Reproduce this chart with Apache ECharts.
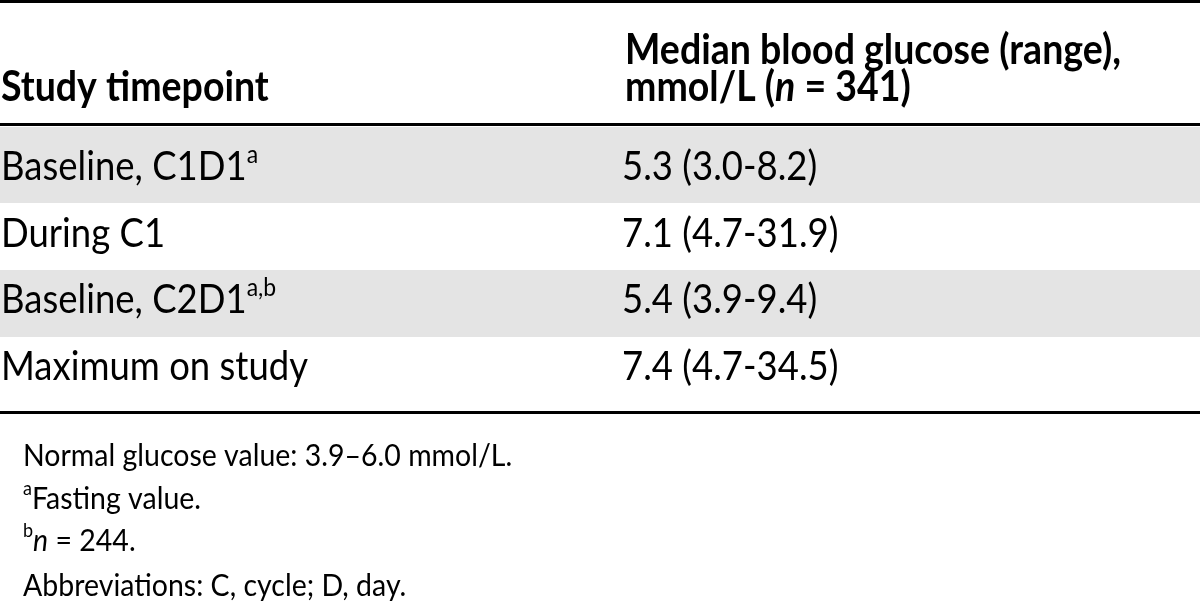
<!DOCTYPE html>
<html><head><meta charset="utf-8">
<script src="https://cdn.jsdelivr.net/npm/echarts@6/dist/echarts.min.js"></script>
<style>html,body{margin:0;padding:0;background:#fff}#c{width:1200px;height:603px}</style>
</head><body><div id="c"></div>
<script>
// ---- data ----
const headerCol1 = 'Study timepoint';
const headerCol2Line1 = 'Median blood glucose (range),';
const headerCol2N = '341';
const timepoints = ['Baseline, C1D1', 'During C1', 'Baseline, C2D1', 'Maximum on study'];
const timepointNotes = ['a', '', 'a,b', ''];
const medians = ['5.3', '7.1', '5.4', '7.4'];
const ranges = ['3.0-8.2', '4.7-31.9', '3.9-9.4', '4.7-34.5'];
const footnoteNormal = 'Normal glucose value: 3.9\u20136.0 mmol/L.';
const footnoteA = 'Fasting value.';
const footnoteBN = '244';
const footnoteAbbr = 'Abbreviations: C, cycle; D, day.';

// ---- layout ----
const FONT = 'Lato';
const HEAD = 37.5, BODY = 36.5, FOOT = 28.5;
const SY = 1.1;
const rowTop = [127, 203, 270, 337];
const rowBottom = [203, 270, 337, 411];
const rowCenter = [167, 234, 300, 367];
const col2x = 622;

const g = [];
rowTop.forEach((t, i) => {
  if (i % 2 === 0) g.push({type: 'rect', shape: {x: 0, y: t, width: 1200, height: rowBottom[i] - t}, style: {fill: '#e4e4e4'}, silent: true});
});
[1.5, 124.5, 412.5].forEach((y) => {
  g.push({type: 'line', shape: {x1: 0, y1: y, x2: 1200, y2: y}, style: {stroke: '#000', lineWidth: 3}, silent: true});
});
const rich = (size, bold) => ({
  t: {fontFamily: FONT, fontSize: size, fontWeight: bold ? 'bold' : 'normal', fill: '#000'},
  i: {fontFamily: FONT, fontSize: size, fontWeight: bold ? 'bold' : 'normal', fontStyle: 'italic', fill: '#000'},
  s: {fontFamily: FONT, fontSize: Math.round(size * 0.62), fill: '#000', verticalAlign: 'top', padding: [0, 0, Math.round(size * 0.62), 0]}
});
function txt(x, y, text, size, bold) {
  g.push({type: 'text', x: x, y: y, scaleY: SY, silent: true,
    style: {text: text, rich: rich(size, bold), verticalAlign: 'middle', textVerticalAlign: 'middle', align: 'left', fill: '#000'}});
}
// header
txt(1, 88, '{t|' + headerCol1 + '}', HEAD, true);
txt(625, 51, '{t|' + headerCol2Line1 + '}', HEAD, true);
txt(625, 88, '{t|mmol/L (}{i|n}{t| = ' + headerCol2N + ')}', HEAD, true);
// rows
timepoints.forEach((tp, i) => {
  txt(1, rowCenter[i], '{t|' + tp + '}' + (timepointNotes[i] ? '{s|' + timepointNotes[i] + '}' : ''), BODY, false);
  txt(col2x, rowCenter[i], '{t|' + medians[i] + ' (' + ranges[i] + ')}', BODY, false);
});
// footnotes
txt(23, 456, '{t|' + footnoteNormal + '}', FOOT, false);
txt(23, 499, '{s|a}{t|' + footnoteA + '}', FOOT, false);
txt(23, 541, '{s|b}{i|n}{t| = ' + footnoteBN + '.}', FOOT, false);
txt(23, 586, '{t|' + footnoteAbbr + '}', FOOT, false);

const chart = echarts.init(document.getElementById('c'));
chart.setOption({animation: false, graphic: {elements: g}});
</script></body></html>
